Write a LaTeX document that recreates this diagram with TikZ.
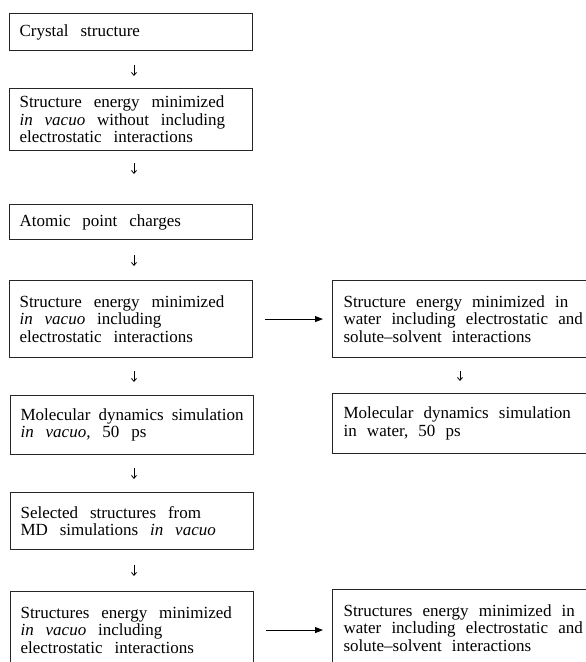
\documentclass[tikz,border=0pt]{standalone}
\usepackage{fontspec}
\setmainfont{Liberation Serif}
\usetikzlibrary{arrows.meta}
\begin{document}
\begin{tikzpicture}[x=1pt,y=-1pt,
 txt/.style={font={\fontsize{17}{17.5}\selectfont}, execute at begin node={\spaceskip=0.7em plus 0.1em minus 0.3em\relax}},
 lbox/.style={txt, draw=black!85, line width=1.1pt, anchor=north west, text width=223pt, inner xsep=10pt, inner ysep=0pt, align=left},
 rbox/.style={lbox, text width=248pt, inner xsep=11pt, execute at begin node={\spaceskip=0.6em plus 0.1em minus 0.3em\relax}},
 darr/.style={line width=0.8pt, -{Straight Barb[length=3pt,width=5pt]}},
 harr/.style={line width=0.9pt, -{Triangle[length=8pt,width=6pt]}}]
\useasboundingbox (0,0) rectangle (586,662);
\fill[white] (0,0) rectangle (586,662);
\clip (0,0) rectangle (586,662);
% left column
\node[lbox, minimum height=37pt] (b1) at (9,13) {Crystal structure};
\node[lbox, minimum height=62pt] (b2) at (9,88) {Structure energy minimized\\\textit{in vacuo} without including\\electrostatic interactions};
\node[lbox, minimum height=35pt] (b3) at (9,204) {Atomic point charges};
\node[lbox, minimum height=77pt] (b4) at (9,280) {Structure energy minimized\\\textit{in vacuo} including\\electrostatic interactions};
\node[lbox, minimum height=59pt] (b5) at (10,395) {Molecular dynamics simulation\\\textit{in vacuo,} 50 ps};
\node[lbox, minimum height=57pt] (b6) at (10,492) {Selected structures from\\MD simulations \textit{in vacuo}};
\node[lbox, minimum height=77pt] (b7) at (10,591) {Structures energy minimized\\\textit{in vacuo} including\\electrostatic interactions};
% right column
\node[rbox, minimum height=77pt] (r4) at (332,280) {Structure energy minimized in\\water including electrostatic and\\solute--solvent interactions};
\node[rbox, minimum height=60pt] (r5) at (332,393) {Molecular dynamics simulation\\in water, 50 ps};
\node[rbox, minimum height=77pt] (r7) at (332,589) {Structures energy minimized in\\water including electrostatic and\\solute--solvent interactions};
\coordinate (lx) at (134,0);
\coordinate (rx) at (460,0);
% down arrows
\draw[darr, shorten <=14pt, shorten >=12pt] (b1.south -| lx) -- (b2.north -| lx);
\draw[darr, shorten <=12pt, shorten >=30pt] (b2.south -| lx) -- (b3.north -| lx);
\draw[darr, shorten <=15pt, shorten >=14pt] (b3.south -| lx) -- (b4.north -| lx);
\draw[darr, shorten <=13pt, shorten >=13pt] (b4.south -| lx) -- (b5.north -| lx);
\draw[darr, shorten <=13pt, shorten >=13pt] (b5.south -| lx) -- (b6.north -| lx);
\draw[darr, shorten <=15pt, shorten >=15pt] (b6.south -| lx) -- (b7.north -| lx);
\draw[darr, shorten <=13pt, shorten >=12pt] (r4.south -| rx) -- (r5.north -| rx);
% horizontal arrows
\draw[harr, shorten <=12pt, shorten >=9pt] (b4.east) -- (b4.east -| r4.west);
\draw[harr, shorten <=12pt, shorten >=9pt] (b7.east) -- (b7.east -| r7.west);
\end{tikzpicture}
\end{document}
